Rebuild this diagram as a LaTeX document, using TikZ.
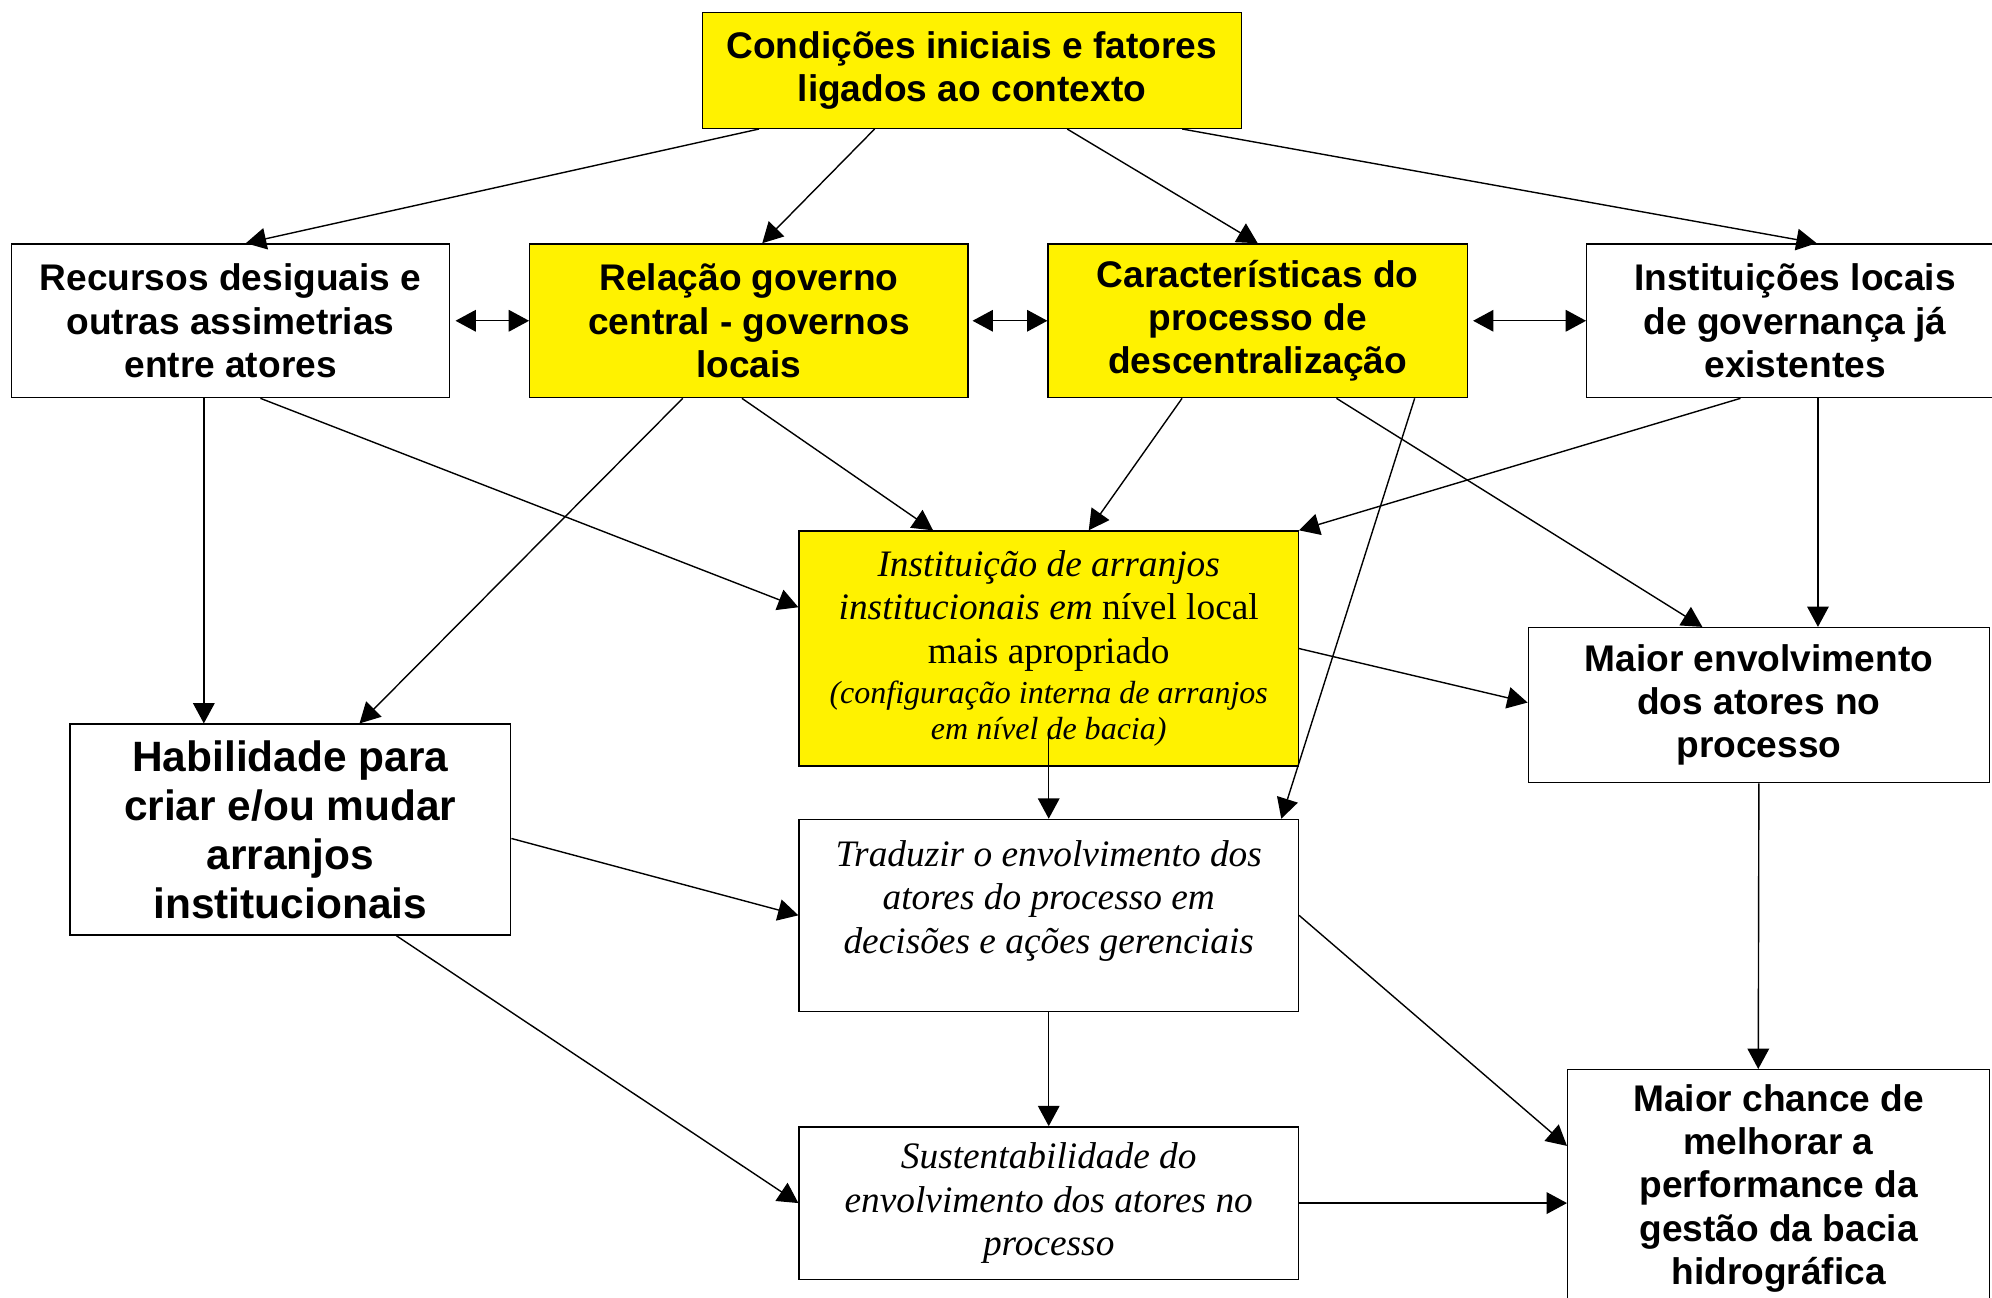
\documentclass[tikz,border=0pt]{standalone}
\usepackage{fontspec}
\setmainfont{Liberation Serif}
\setsansfont{Liberation Sans}
\usepackage{tikz}
\usetikzlibrary{arrows.meta}
\usetikzlibrary{calc}

\begin{document}
\begin{tikzpicture}[x=0.5pt, y=-0.5pt, line width=0.55pt, >={Triangle[length=8pt,width=8.5pt]},
                    box/.style={rectangle,draw,inner sep=0pt,align=center},
                    yellow box/.style={box,fill=yellow},
                    sans text/.style={font=\sffamily\bfseries\fontsize{14.6}{17}\selectfont},
                    serif text/.style={font=\itshape\fontsize{14.7}{17}\selectfont}]

  \useasboundingbox (0,0) rectangle (1568,1021);

  \node[yellow box,sans text,minimum width=212pt,minimum height=45.5pt] (cond) at (765,55.5)
    {Condições iniciais e fatores\\ligados ao contexto};
  \node[box,sans text,minimum width=172.5pt,minimum height=60.5pt] (rec) at (181.5,252.5)
    {Recursos desiguais e\\outras assimetrias\\entre atores};
  \node[yellow box,sans text,minimum width=172.5pt,minimum height=60.5pt] (rel) at (589.5,252.5)
    {Relação governo\\central - governos\\locais};
  \node[yellow box,sans text,minimum width=165pt,minimum height=60.5pt] (car) at (990,252.5)
    {Características do\\processo de\\descentralização};
  \node[box,sans text,minimum width=164pt,minimum height=60.5pt] (inst) at (1413,252.5)
    {Instituições locais\\de governança já\\existentes};
  \node[yellow box,serif text,minimum width=196.5pt,minimum height=92.5pt] (arr) at (825.5,510.5)
    {Instituição de arranjos\\institucionais em {\upshape nível local}\\{\upshape mais apropriado}\\[-1pt]
     {\fontsize{12.6}{14}\selectfont (configuração interna de arranjos}\\[-3pt]
     {\fontsize{12.6}{14}\selectfont em nível de bacia)}};
  \node[box,sans text,minimum width=181.5pt,minimum height=61pt] (mai) at (1384.5,555)
    {Maior envolvimento\\dos atores no\\processo};
  \node[box,font=\sffamily\bfseries\fontsize{16.7}{19.3}\selectfont,minimum width=173.5pt,minimum height=83pt] (hab) at (228.5,653)
    {Habilidade para\\criar e/ou mudar\\arranjos\\institucionais};
  \node[box,serif text,minimum width=196.5pt,minimum height=75.5pt] (trad) at (825.5,720.5)
    {Traduzir o envolvimento dos\\atores do processo em\\decisões e ações gerenciais\\[-2.5pt]\mbox{}};
  \node[box,serif text,minimum width=196.5pt,minimum height=60pt] (sus) at (825.5,947)
    {Sustentabilidade do\\envolvimento dos atores no\\processo};
  \node[box,sans text,minimum width=166pt,minimum height=93.5pt] (chance) at (1400,935.5)
    {Maior chance de\\melhorar a\\performance da\\gestão da bacia\\hidrográfica};

  \path[->] ($(cond.south west)+(45,0)$) edge ($(rec.north)+(12,0)$);
  \path[->] ($(cond.south west)+(136,0)$) edge ($(rel.north)+(10.5,0)$);
  \path[->] ($(cond.south)+(75,0)$) edge (car.north);
  \path[->] ($(cond.south east)+(-47,0)$) edge ($(inst.north)+(17,0)$);
  \path[<->,shorten <=2pt] (rec.east) edge (rel.west);
  \path[<->,shorten <=1.5pt] (rel.east) edge (car.west);
  \path[<->,shorten <=2pt] (car.east) edge (inst.west);
  \path[->] ($(rec.south west)+(152,0)$) edge ($(hab.north west)+(106,0)$);
  \path[->] ($(rec.south)+(23.5,0)$) edge ($(arr.west)+(0,-32.5)$);
  \path[->] ($(rel.south west)+(121,0)$) edge ($(hab.north)+(54.5,0)$);
  \path[->] ($(rel.south)+(-5.5,0)$) edge ($(arr.north west)+(106,0)$);
  \path[->] ($(car.south west)+(106,0)$) edge ($(arr.north)+(31.5,0)$);
  \path[->] ($(car.south)+(62,0)$) edge ($(mai.north)+(-44.5,0)$);
  \path[->] ($(car.south east)+(-42,0)$) edge ($(trad.north east)+(-14,0)$);
  \path[->] ($(inst.south)+(-43,0)$) edge (arr.north east);
  \path[->] ($(inst.south)+(18,0)$) edge ($(mai.north)+(46.5,0)$);
  \path[->] (arr.east) edge ($(mai.west)+(0,-2)$);
  \path[->] ($(arr.south)+(0,-30)$) edge (trad.north);
  \path[->] ($(hab.east)+(0,7)$) edge (trad.west);
  \path[->] ($(hab.south)+(83.5,0)$) edge (sus.west);
  \path[->] (trad.south) edge (sus.north);
  \path[->] (trad.east) edge ($(chance.west)+(0,-33.5)$);
  \path[->] (sus.east) edge ($(chance.west)+(0,11.5)$);
  \path[->] (mai.south) edge ($(chance.north)+(-16,0)$);

\end{tikzpicture}
\end{document}
